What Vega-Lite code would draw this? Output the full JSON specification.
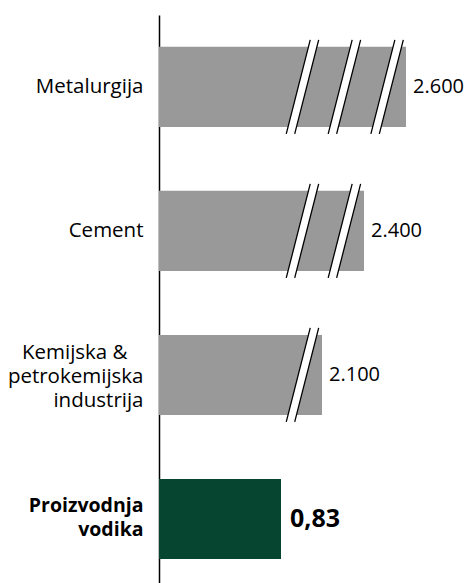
{
  "$schema": "https://vega.github.io/schema/vega-lite/v6.json",
  "width": 310,
  "height": 568,
  "autosize": {"type": "none"},
  "padding": {"left": 159, "top": 15, "right": 0, "bottom": 0},
  "background": "white",
  "config": {"view": {"stroke": null}, "font": "Open Sans"},
  "datasets": {
    "bars": [
      {"sector": "Metalurgija", "value": 2600, "label": "2.600"},
      {"sector": "Cement", "value": 2400, "label": "2.400"},
      {"sector": "Kemijska & petrokemijska industrija", "value": 2100, "label": "2.100"},
      {"sector": "Proizvodnja vodika", "value": 0.83, "label": "0,83"}
    ],
    "breaks": [
      {"sector": "Metalurgija", "at": 1100},
      {"sector": "Metalurgija", "at": 2260},
      {"sector": "Metalurgija", "at": 2510},
      {"sector": "Cement", "at": 1100},
      {"sector": "Cement", "at": 2260},
      {"sector": "Kemijska & petrokemijska industrija", "at": 1100}
    ]
  },
  "encoding": {
    "y": {
      "field": "sector",
      "type": "nominal",
      "sort": ["Metalurgija", "Cement", "Kemijska & petrokemijska industrija", "Proizvodnja vodika"],
      "scale": {"paddingInner": 0.444, "paddingOuter": 0.194, "align": 0.57},
      "axis": {
        "title": null,
        "domainColor": "black",
        "domainWidth": 1.5,
        "ticks": false,
        "labelPadding": 16,
        "labelFontSize": {"condition": {"test": "datum.value === 'Proizvodnja vodika'", "value": 19.5}, "value": 20.5},
        "labelColor": "black",
        "labelLineHeight": 24,
        "labelLimit": 0,
        "labelOffset": {"condition": [
          {"test": "datum.value === 'Kemijska & petrokemijska industrija'", "value": -22},
          {"test": "datum.value === 'Proizvodnja vodika'", "value": -13}
        ], "value": 0},
        "labelFontWeight": {"condition": {"test": "datum.value === 'Proizvodnja vodika'", "value": "bold"}, "value": "normal"},
        "labelExpr": "datum.value === 'Kemijska & petrokemijska industrija' ? ['Kemijska &\u00a0\u00a0\u00a0\u200b', 'petrokemijska', 'industrija'] : datum.value === 'Proizvodnja vodika' ? ['Proizvodnja', 'vodika'] : datum.value"
      }
    }
  },
  "layer": [
    {
      "data": {"name": "bars"},
      "mark": {"type": "bar"},
      "encoding": {
        "x": {"field": "value", "type": "quantitative", "axis": null,
              "scale": {"type": "linear", "domain": [0, 0.83, 2100, 2400, 2600], "range": [0, 122, 163, 205, 247], "nice": false, "zero": false}},
        "color": {"condition": {"test": "datum.sector === 'Proizvodnja vodika'", "value": "#064630"}, "value": "#999999"}
      }
    },
    {
      "data": {"name": "breaks"},
      "mark": {"type": "point", "shape": "M-0.345,1L0.165,-1L0.345,-1L-0.165,1Z", "filled": true, "fill": "white", "opacity": 1, "strokeWidth": 0, "size": 8836},
      "encoding": {
        "x": {"field": "at", "type": "quantitative"}
      }
    },
    {
      "data": {"name": "breaks"},
      "mark": {"type": "point", "shape": "M-0.345,1L0.165,-1M-0.165,1L0.345,-1", "filled": false, "stroke": "black", "opacity": 1, "strokeWidth": 1.3, "size": 8836},
      "encoding": {
        "x": {"field": "at", "type": "quantitative"}
      }
    },
    {
      "data": {"name": "bars"},
      "transform": [{"filter": "datum.sector !== 'Proizvodnja vodika'"}],
      "mark": {"type": "text", "align": "left", "baseline": "middle", "dx": 7, "fontSize": 20, "color": "black"},
      "encoding": {
        "x": {"field": "value", "type": "quantitative"},
        "text": {"field": "label"}
      }
    },
    {
      "data": {"name": "bars"},
      "transform": [{"filter": "datum.sector === 'Proizvodnja vodika'"}],
      "mark": {"type": "text", "align": "left", "baseline": "middle", "dx": 9, "fontSize": 25, "fontWeight": "bold", "color": "black"},
      "encoding": {
        "x": {"field": "value", "type": "quantitative"},
        "text": {"field": "label"}
      }
    }
  ]
}
